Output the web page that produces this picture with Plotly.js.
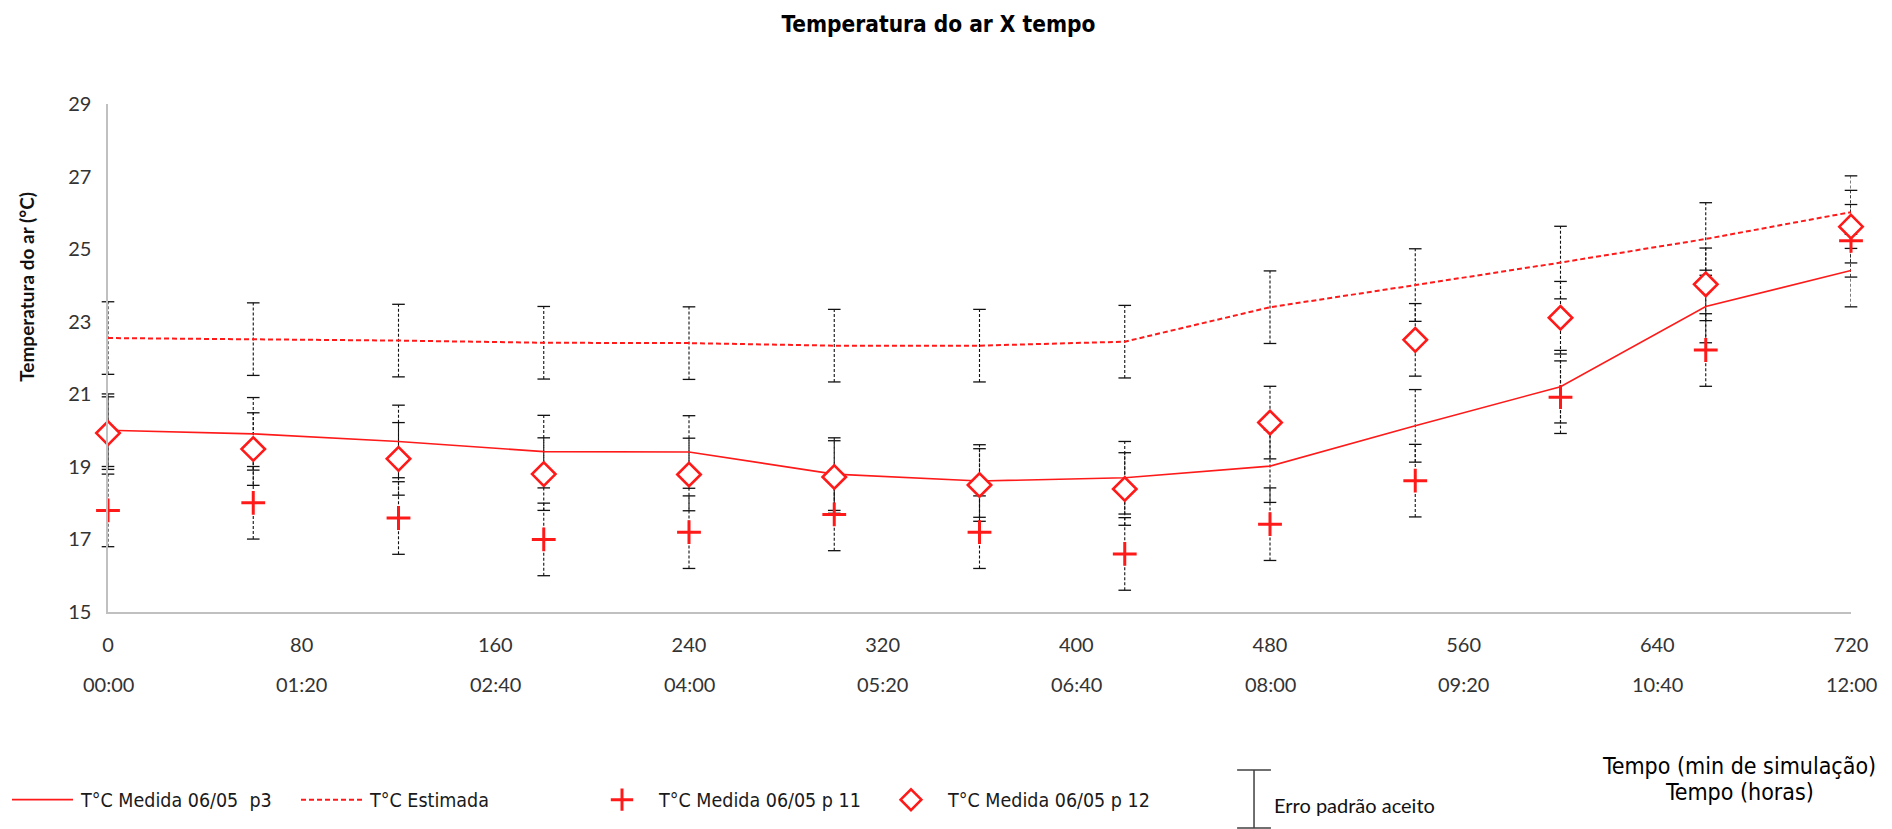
<!DOCTYPE html>
<html>
<head>
<meta charset="utf-8">
<script src="https://cdn.plot.ly/plotly-3.0.1.min.js"></script>
<style>
  html, body { margin: 0; padding: 0; background: #ffffff; }
  #chart { width: 1892px; height: 829px; }
</style>
</head>
<body>
<div id="chart"></div>
<script>
// Minutos de simulação (um ponto por hora)
const minutos = [0, 60, 120, 180, 240, 300, 360, 420, 480, 540, 600, 660, 720];

// Temperatura do ar (°C)
const tEstimada = [22.55, 22.52, 22.48, 22.42, 22.41, 22.34, 22.34, 22.45, 23.40, 24.01, 24.63, 25.28, 26.02];
const tMedidaP3 = [20.01, 19.91, 19.70, 19.42, 19.41, 18.80, 18.61, 18.70, 19.02, 20.13, 21.21, 23.42, 24.41];
const tMedidaP11 = [17.80, 18.01, 17.59, 17.00, 17.20, 17.69, 17.20, 16.60, 17.42, 18.62, 20.92, 22.22, 25.23];
const tMedidaP12 = [19.93, 19.49, 19.22, 18.80, 18.79, 18.72, 18.50, 18.39, 20.22, 22.50, 23.11, 24.03, 25.62];

// Erro padrão aceito (± °C)
const erroPadrao = 1;

// Rótulos dos eixos
const ticksMinutos = [0, 80, 160, 240, 320, 400, 480, 560, 640, 720];
const ticksHoras = ['00:00', '01:20', '02:40', '04:00', '05:20', '06:40', '08:00', '09:20', '10:40', '12:00'];
const ticksTemp = [15, 17, 19, 21, 23, 25, 27, 29];

const RED = '#ff1a1a';
const NARROW = '"Liberation Sans Narrow", "Arial Narrow", "DejaVu Sans Condensed", sans-serif';
const CAL = 'Lato, "Open Sans", sans-serif';

// Barras de erro tracejadas: segmento vertical + traços nas pontas
function errorTraces(ys) {
  const sx = [], sy = [], cx = [], cy = [];
  minutos.forEach((m, i) => {
    sx.push(m, m, null);
    sy.push(ys[i] - erroPadrao, ys[i] + erroPadrao, null);
    cx.push(m, m);
    cy.push(ys[i] - erroPadrao, ys[i] + erroPadrao);
  });
  return [
    { x: sx, y: sy, mode: 'lines', type: 'scatter', showlegend: false, hoverinfo: 'skip',
      cliponaxis: false, line: { color: '#111111', width: 1.1, dash: '3px,2px' } },
    { x: cx, y: cy, mode: 'markers', type: 'scatter', showlegend: false, hoverinfo: 'skip',
      cliponaxis: false, marker: { symbol: 'line-ew', size: 9, line: { color: '#111111', width: 1.3 } } }
  ];
}

const traces = [
  ...errorTraces(tEstimada),
  ...errorTraces(tMedidaP3),
  ...errorTraces(tMedidaP11),
  ...errorTraces(tMedidaP12),
  { x: minutos, y: tMedidaP3, name: 'T°C Medida 06/05\u00a0 p3', mode: 'lines', type: 'scatter',
    cliponaxis: false, line: { color: RED, width: 1.6 } },
  { x: minutos, y: tEstimada, name: 'T°C Estimada', mode: 'lines', type: 'scatter',
    cliponaxis: false, line: { color: RED, width: 2, dash: '5px,3px' } },
  { x: minutos, y: tMedidaP11, name: 'T°C Medida 06/05 p 11', mode: 'markers', type: 'scatter',
    cliponaxis: false, marker: { symbol: 'cross-thin', size: 17, line: { color: RED, width: 3 } } },
  { x: minutos, y: tMedidaP12, name: 'T°C Medida 06/05 p 12', mode: 'markers', type: 'scatter',
    cliponaxis: false, marker: { symbol: 'diamond', size: 18, color: '#ffffff', line: { color: RED, width: 2.6 } } }
];

// Segunda linha de rótulos do eixo x (horas)
const annHoras = ticksMinutos.map((m, i) => ({
  x: m, xref: 'x', y: -0.142, yref: 'paper', yanchor: 'middle', xanchor: 'center',
  text: ticksHoras[i], showarrow: false, font: { family: CAL, size: 20, color: '#333333' }
}));

const layout = {
  width: 1892,
  height: 829,
  paper_bgcolor: '#ffffff',
  plot_bgcolor: '#ffffff',
  margin: { l: 108, r: 41, t: 104, b: 217 },
  showlegend: true,
  title: {
    text: '<b>Temperatura do ar X tempo</b>',
    xref: 'container', x: 0.496, xanchor: 'center',
    yref: 'container', y: 0.971, yanchor: 'middle',
    font: { family: NARROW, size: 22.5, color: '#000000' }
  },
  xaxis: {
    range: [0, 720],
    tickmode: 'array', tickvals: ticksMinutos, ticktext: ticksMinutos.map(String),
    showgrid: false, zeroline: false,
    showline: true, linecolor: '#c0c0c0', linewidth: 1.6,
    ticks: 'outside', ticklen: 14, tickcolor: 'rgba(0,0,0,0)',
    tickfont: { family: CAL, size: 20, color: '#333333' }
  },
  yaxis: {
    range: [15, 29],
    tickmode: 'array', tickvals: ticksTemp,
    showgrid: false, zeroline: false,
    showline: true, linecolor: '#c0c0c0', linewidth: 1.6,
    ticks: 'outside', ticklen: 11, tickcolor: 'rgba(0,0,0,0)',
    tickfont: { family: CAL, size: 20, color: '#333333' }
  },
  legend: {
    orientation: 'h',
    xref: 'container', x: 0.0037, xanchor: 'left',
    yref: 'container', y: 0.035, yanchor: 'middle',
    entrywidth: 210,
    itemwidth: 64,
    font: { family: NARROW, size: 19.5, color: '#1a1a1a' },
    bgcolor: 'rgba(0,0,0,0)'
  },
  annotations: [
    ...annHoras,
    { x: -0.0465, xref: 'paper', y: 0.64, yref: 'paper', xanchor: 'center', yanchor: 'middle',
      textangle: -90, showarrow: false, text: '<b>Temperatura do ar (°C)</b>',
      font: { family: CAL, size: 19, color: '#111111' } },
    { x: 0.936, xref: 'paper', y: -0.303, yref: 'paper', xanchor: 'center', yanchor: 'middle',
      showarrow: false, text: 'Tempo (min de simulação)',
      font: { family: NARROW, size: 23, color: '#000000' } },
    { x: 0.936, xref: 'paper', y: -0.355, yref: 'paper', xanchor: 'center', yanchor: 'middle',
      showarrow: false, text: 'Tempo (horas)',
      font: { family: NARROW, size: 23, color: '#000000' } },
    { x: 0.6678, xref: 'paper', y: -0.38, yref: 'paper', xanchor: 'left', yanchor: 'middle',
      showarrow: false, text: 'Erro padrão aceito',
      font: { family: CAL, size: 20, color: '#111111' } }
  ],
  shapes: [
    { type: 'line', xref: 'paper', yref: 'paper', x0: 0.6575, x1: 0.6575, y0: -0.311, y1: -0.425,
      line: { color: '#404040', width: 1.5 } },
    { type: 'line', xref: 'paper', yref: 'paper', x0: 0.6478, x1: 0.6672, y0: -0.311, y1: -0.311,
      line: { color: '#404040', width: 1.5 } },
    { type: 'line', xref: 'paper', yref: 'paper', x0: 0.6478, x1: 0.6672, y0: -0.425, y1: -0.425,
      line: { color: '#404040', width: 1.5 } }
  ]
};

Plotly.newPlot('chart', traces, layout, { displayModeBar: false, staticPlot: true }).then(gd => {
  // Amostras de linha da legenda mais longas
  gd.querySelectorAll('.legend .legendlines path').forEach(p => p.setAttribute('d', 'M5,0h61'));
});
</script>
</body>
</html>
